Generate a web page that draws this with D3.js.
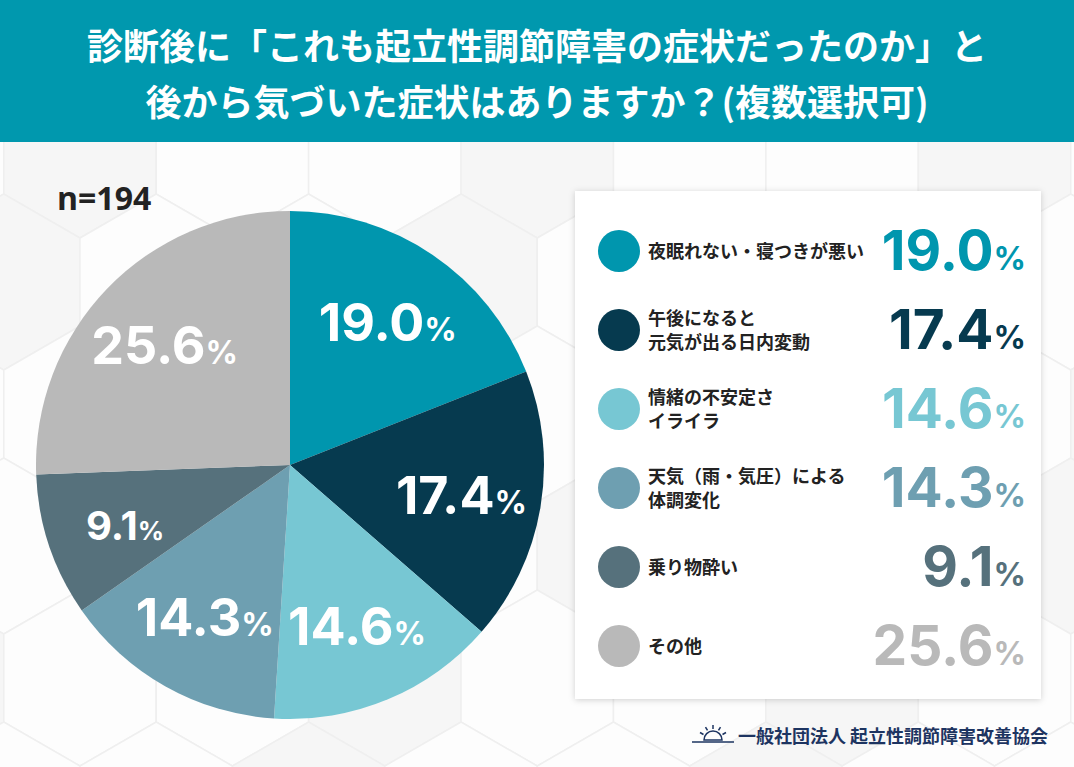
<!DOCTYPE html>
<html lang="ja">
<head>
<meta charset="UTF-8">
<title>pie chart</title>
<script src="https://d3js.org/d3.v7.min.js"></script>
<style>
  body { margin: 0; background: #fafafa; }
  svg { display: block; }
</style>
</head>
<body>
<svg></svg>
<script>
const width = 1074;
const height = 767;

const titleLines = [
  "診断後に「これも起立性調節障害の症状だったのか」と",
  "後から気づいた症状はありますか？(複数選択可)"
];
const labels = [
  ["夜眠れない・寝つきが悪い"],
  ["午後になると", "元気が出る日内変動"],
  ["情緒の不安定さ", "イライラ"],
  ["天気（雨・気圧）による", "体調変化"],
  ["乗り物酔い"],
  ["その他"]
];
const values = [19.0, 17.4, 14.6, 14.3, 9.1, 25.6];
const colors = ["#0096ae", "#063a4f", "#77c7d3", "#6e9fb1", "#56717c", "#b9b9b9"];
const sampleSize = 194;
const footerText = "一般社団法人 起立性調節障害改善協会";

const jp = "'Noto Sans CJK JP', 'Noto Sans', sans-serif";
const num = "Inter, 'Noto Sans', sans-serif";

const svg = d3.select("svg")
  .attr("width", width)
  .attr("height", height);

// faint hexagon background
const bg = svg.append("g");
bg.append("rect").attr("width", width).attr("height", height).attr("fill", "#fbfbfb");
const hexR = 88;
const hexW = Math.sqrt(3) * hexR;
const hex = d3.range(6).map(i => {
  const a = Math.PI / 180 * (60 * i - 30);
  return [hexR * Math.cos(a), hexR * Math.sin(a)];
});
for (let row = 0; row < 7; row++) {
  for (let col = -1; col < 8; col++) {
    const cx = col * hexW + (row % 2 ? hexW / 2 : 0) + 80;
    const cy = row * hexR * 1.5 + 150;
    bg.append("polygon")
      .attr("points", hex.map(p => [p[0] + cx, p[1] + cy].join(",")).join(" "))
      .attr("fill", (row + col) % 3 === 0 ? "#f6f6f6" : "#fdfdfd")
      .attr("stroke", "#efefef")
      .attr("stroke-width", 1.5);
  }
}

// header
svg.append("rect")
  .attr("width", width).attr("height", 142)
  .attr("fill", "#0098ae");
svg.selectAll("text.title")
  .data(titleLines)
  .enter().append("text")
  .attr("class", "title")
  .attr("x", width / 2)
  .attr("y", (d, i) => 60 + i * 56)
  .attr("text-anchor", "middle")
  .attr("fill", "#fff")
  .attr("font-family", jp)
  .attr("font-weight", 700)
  .attr("font-size", 36)
  .text(d => d);

svg.append("text")
  .attr("x", 57).attr("y", 210)
  .attr("font-family", "'Open Sans', 'Noto Sans', sans-serif")
  .attr("font-weight", 700)
  .attr("font-size", 32)
  .attr("fill", "#222")
  .text("n=" + sampleSize);

// pie
const radius = 254;
const g = svg.append("g").attr("transform", `translate(290,465)`);
const pie = d3.pie().sort(null).value(d => d);
const arc = d3.arc().innerRadius(0).outerRadius(radius);
const labelArc = d3.arc().innerRadius(174).outerRadius(174);

const slices = g.selectAll("g.slice")
  .data(pie(values))
  .enter().append("g").attr("class", "slice");

slices.append("path")
  .attr("d", arc)
  .attr("fill", (d, i) => colors[i]);

const pct = slices.append("text")
  .attr("transform", d => {
    const c = labelArc.centroid(d);
    return `translate(${c[0]},${c[1] + 14})`;
  })
  .attr("text-anchor", "middle")
  .attr("dy", "0.36em")
  .attr("fill", "#fff")
  .attr("font-family", num)
  .attr("font-weight", 700);
pct.append("tspan").attr("font-size", d => d.data < 10 ? 40 : 52).text(d => d.data.toFixed(1));
pct.append("tspan").attr("font-size", d => d.data < 10 ? 26 : 32).text("%");

// legend box
const box = svg.append("g");
const defs = svg.append("defs");
const f = defs.append("filter").attr("id", "shadow").attr("x", "-10%").attr("y", "-10%").attr("width", "120%").attr("height", "120%");
f.append("feDropShadow").attr("dx", 0).attr("dy", 1).attr("stdDeviation", 3).attr("flood-color", "#000").attr("flood-opacity", 0.18);
box.append("rect")
  .attr("x", 575).attr("y", 191)
  .attr("width", 466).attr("height", 508)
  .attr("fill", "#fff")
  .attr("filter", "url(#shadow)");

const rowY = d3.scalePoint()
  .domain(d3.range(values.length))
  .range([251, 646]);

const rows = box.selectAll("g.row")
  .data(values)
  .enter().append("g")
  .attr("class", "row")
  .attr("transform", (d, i) => `translate(0,${rowY(i)})`);

rows.append("circle")
  .attr("cx", 619).attr("cy", 0).attr("r", 21)
  .attr("fill", (d, i) => colors[i]);

rows.each(function (d, i) {
  const lines = labels[i];
  const row = d3.select(this);
  lines.forEach((s, j) => {
    row.append("text")
      .attr("x", 648)
      .attr("y", (j - (lines.length - 1) / 2) * 24 + 7)
      .attr("font-family", jp)
      .attr("font-weight", 700)
      .attr("font-size", 18)
      .attr("fill", "#222")
      .text(s);
  });
});

const val = rows.append("text")
  .attr("x", 1026)
  .attr("y", 19)
  .attr("text-anchor", "end")
  .attr("font-family", num)
  .attr("font-weight", 700)
  .attr("fill", (d, i) => colors[i]);
val.append("tspan").attr("font-size", 55).text(d => d.toFixed(1));
val.append("tspan").attr("font-size", 32).text("%");

// footer
const navy = "#1d3461";
const foot = svg.append("g").attr("transform", "translate(692,735)");
foot.append("line").attr("x1", 0).attr("x2", 42).attr("y1", 7).attr("y2", 7)
  .attr("stroke", navy).attr("stroke-width", 1.5);
foot.append("path")
  .attr("d", d3.arc()({ innerRadius: 0, outerRadius: 9, startAngle: -Math.PI / 2, endAngle: Math.PI / 2 }))
  .attr("transform", "translate(21,5)")
  .attr("fill", "none").attr("stroke", navy).attr("stroke-width", 1.5);
[-60, -30, 0, 30, 60].forEach(a => {
  const r = a * Math.PI / 180;
  foot.append("line")
    .attr("x1", 21 + 11 * Math.sin(r)).attr("y1", 5 - 11 * Math.cos(r))
    .attr("x2", 21 + 15 * Math.sin(r)).attr("y2", 5 - 15 * Math.cos(r))
    .attr("stroke", navy).attr("stroke-width", 1.5);
});
foot.append("text")
  .attr("x", 46).attr("y", 8)
  .attr("font-family", jp)
  .attr("font-weight", 700)
  .attr("font-size", 18)
  .attr("fill", navy)
  .text(footerText);
</script>
</body>
</html>
